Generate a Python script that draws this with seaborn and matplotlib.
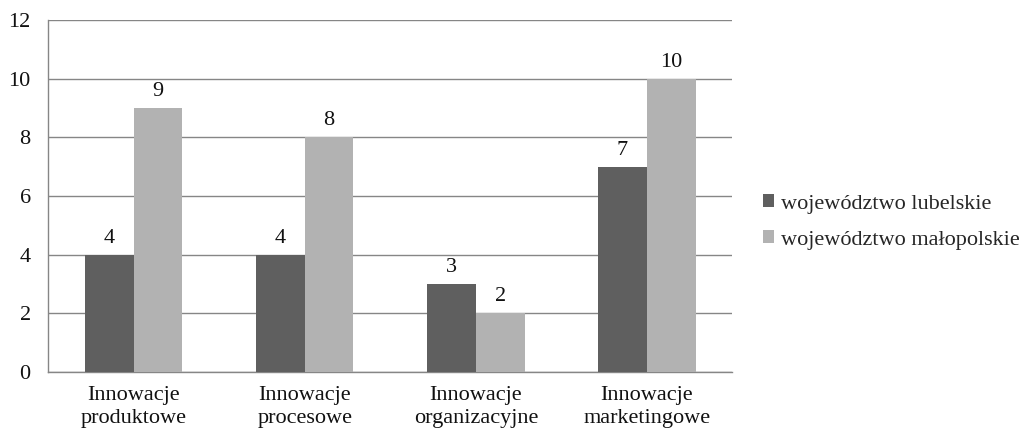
import pandas as pd
import numpy as np
import matplotlib.pyplot as plt
import seaborn as sns
from matplotlib.ticker import FixedLocator

categories = ['Innowacje\nproduktowe', 'Innowacje\nprocesowe',
              'Innowacje\norganizacyjne', 'Innowacje\nmarketingowe']
series_names = ['województwo lubelskie', 'województwo małopolskie']
lubelskie = [4, 4, 3, 7]
malopolskie = [9, 8, 2, 10]
yticks = [0, 2, 4, 6, 8, 10, 12]

df = pd.DataFrame({
    'kategoria': categories * 2,
    'wartosc': lubelskie + malopolskie,
    'seria': [series_names[0]] * 4 + [series_names[1]] * 4,
})

sns.set_theme(style="white")
plt.rcParams['font.family'] = ['Liberation Serif', 'DejaVu Serif']
grid_col = '#868686'
txt_col = '#111111'
fs = 16

fig = plt.figure(figsize=(10.23, 4.34), dpi=100)
ax = fig.add_axes([0.047, 0.143, 0.669, 0.811])

sns.barplot(data=df, x='kategoria', y='wartosc', hue='seria',
            palette=['#5f5f5f', '#b2b2b2'], width=0.57, saturation=1,
            linewidth=0, ax=ax, zorder=3)

for cont in ax.containers:
    ax.bar_label(cont, padding=5, fontsize=fs, color=txt_col)

ax.set_ylim(0, 12)
ax.set_xlim(-0.5, 3.5)
ax.set_yticks(yticks)
ax.yaxis.grid(True, color=grid_col, linewidth=1)
ax.set_axisbelow(True)
ax.set_xlabel('')
ax.set_ylabel('')

for s in ['top', 'right']:
    ax.spines[s].set_visible(False)
for s in ['left', 'bottom']:
    ax.spines[s].set_color(grid_col)
    ax.spines[s].set_linewidth(1)

ax.tick_params(axis='y', which='major', length=4.5, color=grid_col, width=1,
               labelsize=fs, pad=8, labelcolor=txt_col)
ax.tick_params(axis='x', which='major', length=0, labelsize=fs, pad=10,
               labelcolor=txt_col)
for lab in ax.get_xticklabels():
    lab.set_linespacing(1.3)
ax.xaxis.set_minor_locator(FixedLocator([-0.5, 0.5, 1.5, 2.5, 3.5]))
ax.tick_params(axis='x', which='minor', length=4.5, color=grid_col, width=1)

ax.legend(loc='center left', bbox_to_anchor=(763 / 1023, 1 - 222 / 434),
          bbox_transform=fig.transFigure, frameon=False, borderpad=0,
          borderaxespad=0, fontsize=fs, handlelength=0.5, handleheight=0.5,
          handletextpad=0.3, labelspacing=0.75)

plt.savefig('out.png', dpi=100)
